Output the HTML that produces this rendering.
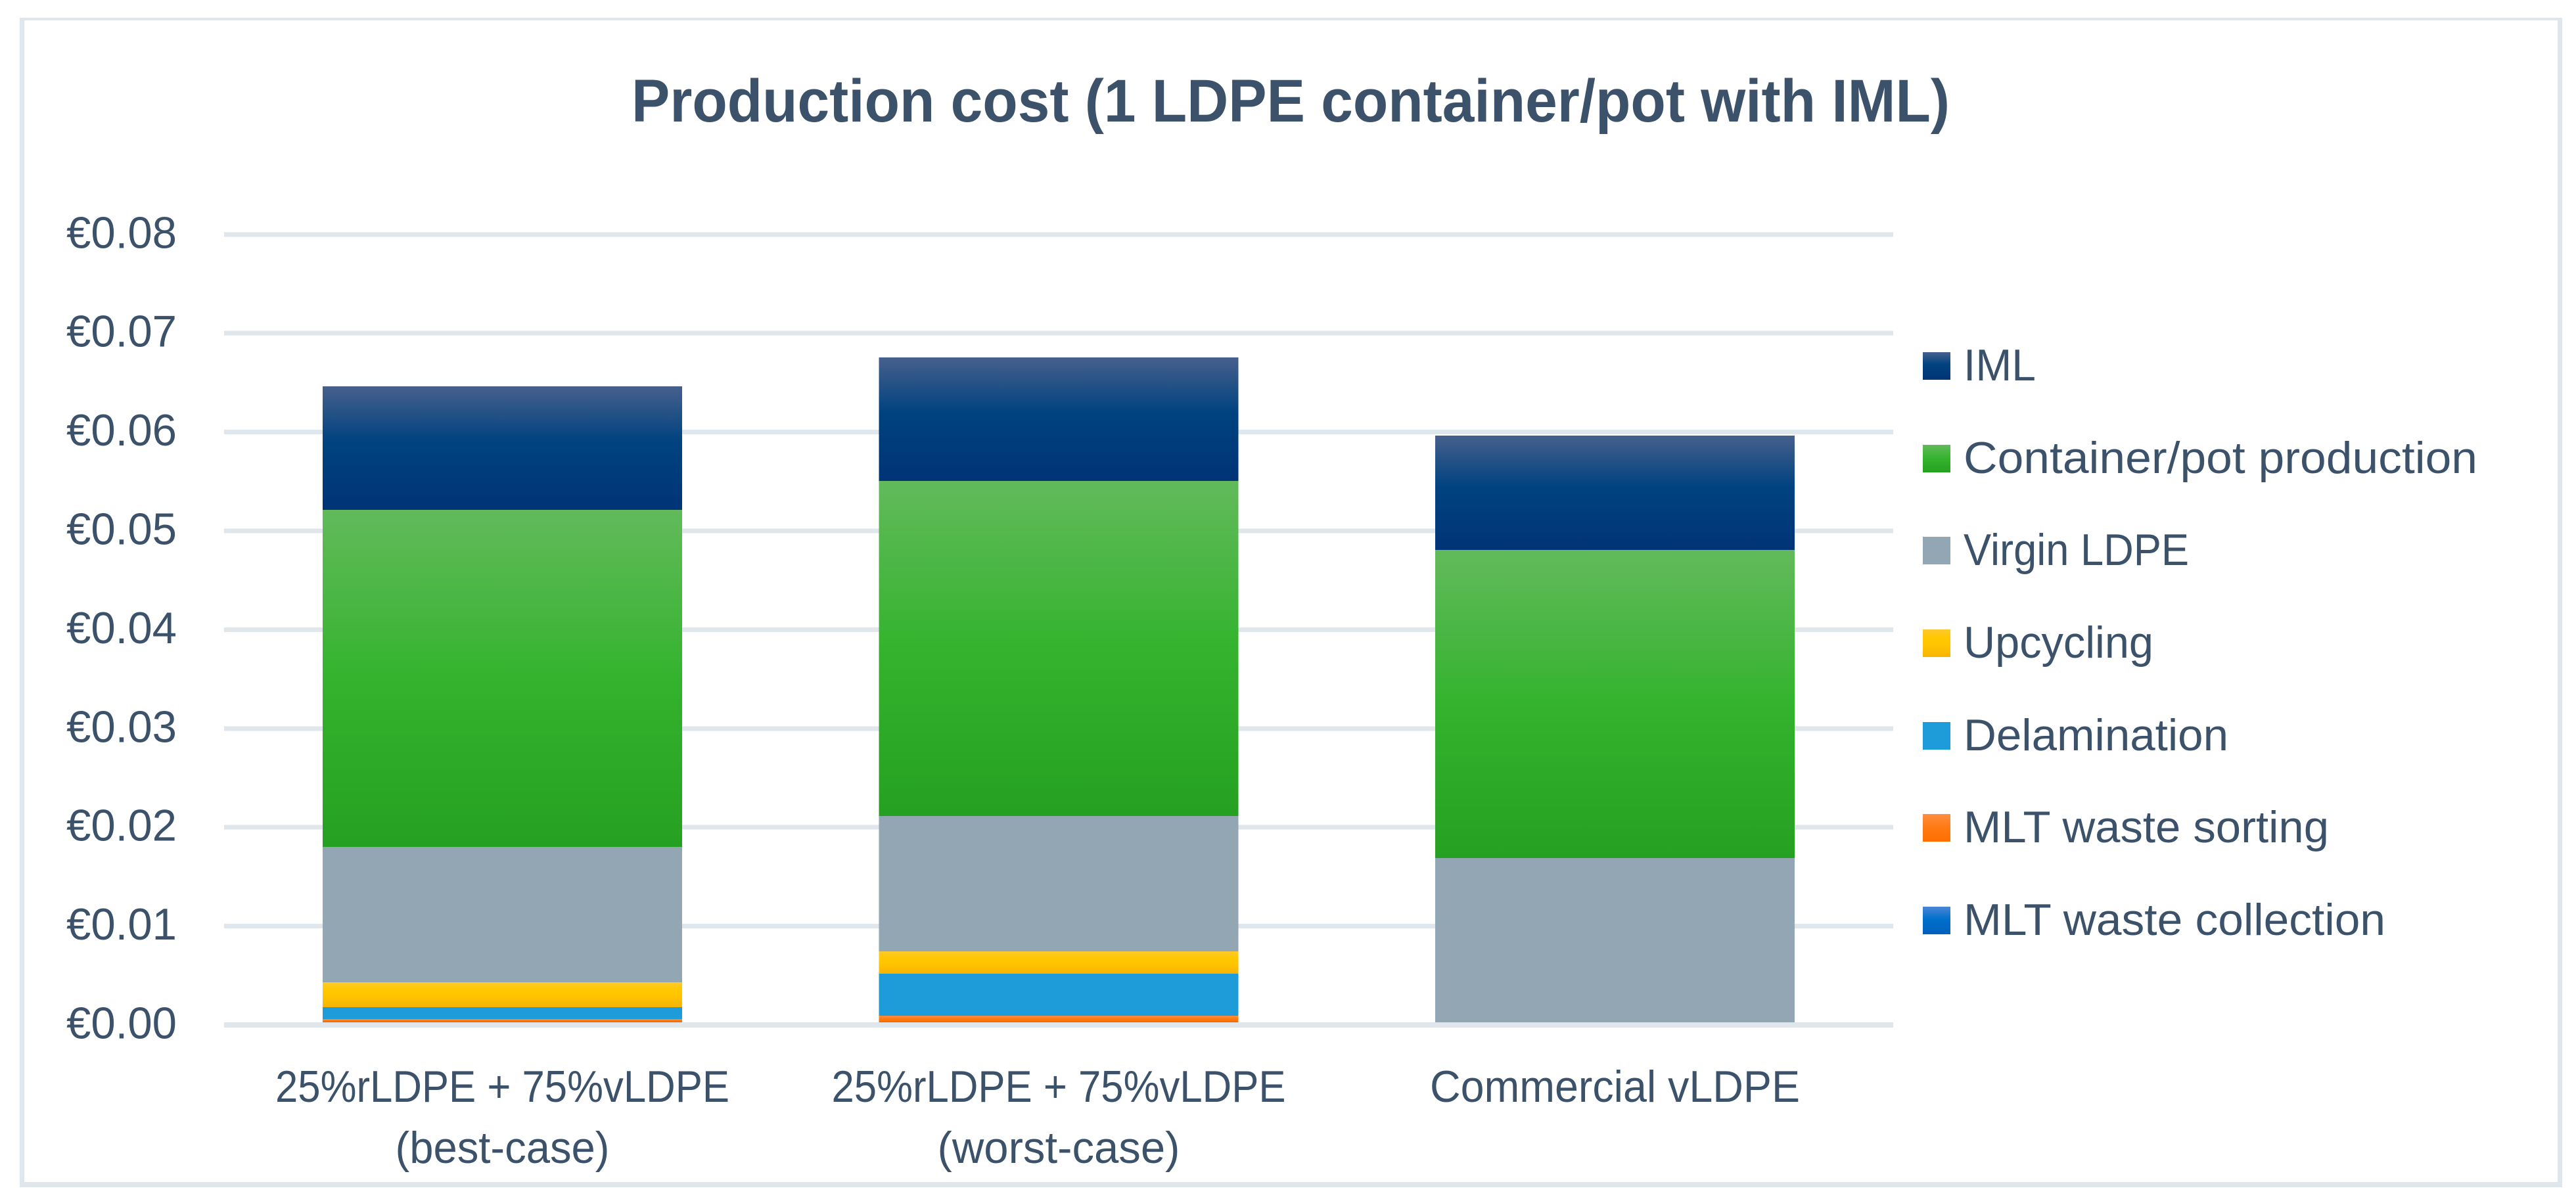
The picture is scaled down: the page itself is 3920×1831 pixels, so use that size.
<!DOCTYPE html>
<html lang="en">
<head>
<meta charset="utf-8">
<title>Production cost (1 LDPE container/pot with IML)</title>
<style>
html,body{margin:0;padding:0;background:#fff;width:3920px;height:1831px;overflow:hidden}
svg{display:block}
text{font-family:"Liberation Sans",sans-serif;fill:#3c526b}
</style>
</head>
<body>
<svg id="chart" xmlns="http://www.w3.org/2000/svg" width="3920" height="1831" viewBox="0 0 3920 1831">
  <defs>
    <linearGradient id="g-iml" x1="0" y1="0" x2="0" y2="1"><stop offset="0" stop-color="#46608c"/><stop offset=".45" stop-color="#004280"/><stop offset="1" stop-color="#003477"/></linearGradient>
    <linearGradient id="g-container" x1="0" y1="0" x2="0" y2="1"><stop offset="0" stop-color="#62ba5b"/><stop offset=".5" stop-color="#34b32e"/><stop offset="1" stop-color="#26a021"/></linearGradient>
    <linearGradient id="g-upcycling" x1="0" y1="0" x2="0" y2="1"><stop offset="0" stop-color="#ffc92e"/><stop offset=".3" stop-color="#ffc800"/><stop offset=".55" stop-color="#ffc500"/><stop offset="1" stop-color="#f8b400"/></linearGradient>
    <linearGradient id="g-sorting" x1="0" y1="0" x2="0" y2="1"><stop offset="0" stop-color="#ff8d40"/><stop offset=".5" stop-color="#ff7a12"/><stop offset="1" stop-color="#ff6e00"/></linearGradient>
    <linearGradient id="g-collection" x1="0" y1="0" x2="0" y2="1"><stop offset="0" stop-color="#4a86d4"/><stop offset=".45" stop-color="#0070cc"/><stop offset="1" stop-color="#0060bb"/></linearGradient>
  </defs>
  <rect x="0" y="0" width="3920" height="1831" fill="#fff"/>
  <g fill="#dfe6ec" shape-rendering="crispEdges">
    <rect x="30" y="27" width="3869" height="4"/>
    <rect x="30" y="27" width="7" height="1780"/>
    <rect x="3892" y="27" width="7" height="1780"/>
    <rect x="30" y="1799" width="3869" height="8"/>
  </g>
  <text x="961" y="185" font-size="92" font-weight="700" textLength="2006" lengthAdjust="spacingAndGlyphs">Production cost (1 LDPE container/pot with IML)</text>
  <g id="grid"></g>
  <g id="bars"></g>
  <g id="axis"></g>
  <g id="ylabels"></g>
  <g id="xlabels"></g>
  <g id="legend"></g>
</svg>
<script>
// ---- chart data ----
const categories = [
  ["25%rLDPE + 75%vLDPE", "(best-case)"],
  ["25%rLDPE + 75%vLDPE", "(worst-case)"],
  ["Commercial vLDPE"]
];
const seriesNames = ["MLT waste collection", "MLT waste sorting", "Delamination", "Upcycling", "Virgin LDPE", "Container/pot production", "IML"];
const mltCollection = [0.0003, 0.0003, 0];
const mltSorting = [0.0003, 0.00063, 0];
const delamination = [0.0012, 0.00426, 0];
const upcycling = [0.00252, 0.00226, 0];
const virginLdpe = [0.0137, 0.01369, 0.01689];
const containerProduction = [0.03411, 0.03391, 0.03118];
const iml = [0.0125, 0.0125, 0.01157];
const yTickValues = [0, 0.01, 0.02, 0.03, 0.04, 0.05, 0.06, 0.07, 0.08];
const yTickLabels = ["€0.00", "€0.01", "€0.02", "€0.03", "€0.04", "€0.05", "€0.06", "€0.07", "€0.08"];

// ---- layout & style ----
const seriesValues = [mltCollection, mltSorting, delamination, upcycling, virginLdpe, containerProduction, iml];
const seriesFills = ["url(#g-collection)", "url(#g-sorting)", "#1e9cd9", "url(#g-upcycling)", "#93a6b3", "url(#g-container)", "url(#g-iml)"];
const seriesKeys = ["mlt-waste-collection", "mlt-waste-sorting", "delamination", "upcycling", "virgin-ldpe", "container-pot-production", "iml"];
const plot = { left: 341, right: 2881, zero: 1560, perUnit: 15040, band: 846.5, barWidth: 547 };
const fitWidths = {
  "25%rLDPE + 75%vLDPE": 691, "(best-case)": 326, "(worst-case)": 369, "Commercial vLDPE": 563,
  "IML": 110, "Container/pot production": 782, "Virgin LDPE": 343, "Upcycling": 289,
  "Delamination": 403, "MLT waste sorting": 556, "MLT waste collection": 642
};
const NS = "http://www.w3.org/2000/svg";
const gridColor = "#dfe6ec";

function yScale(v) { return plot.zero - v * plot.perUnit; }
function xBand(i) { return plot.left + 150 + i * plot.band; }
function make(tag, parent, attrs) {
  const el = document.createElementNS(NS, tag);
  for (const k in attrs) el.setAttribute(k, attrs[k]);
  parent.appendChild(el);
  return el;
}

// gridlines
const gridG = document.getElementById("grid");
yTickValues.forEach(function (v) {
  if (v === 0) return;
  const line = make("rect", gridG, { x: plot.left, y: yScale(v) - 3.5, width: plot.right - plot.left, height: 7, fill: gridColor, "shape-rendering": "crispEdges" });
  
  
});

// stacked bars
const barsG = document.getElementById("bars");
categories.forEach(function (cat, i) {
  let cum = 0;
  seriesValues.forEach(function (vals, s) {
    const v = vals[i];
    const top = yScale(cum + v);
    const bottom = yScale(cum);
    cum += v;
    const seg = make("rect", barsG, { x: xBand(i), y: top, width: plot.barWidth, height: Math.max(0, bottom - top), fill: seriesFills[s], "shape-rendering": "crispEdges" });
    
    
  });
});

// x axis line drawn above the bars
const axisLine = make("rect", document.getElementById("axis"), { x: plot.left, y: yScale(0) - 4, width: plot.right - plot.left, height: 8, fill: gridColor, "shape-rendering": "crispEdges" });



// y tick labels
const yG = document.getElementById("ylabels");
yTickValues.forEach(function (v, i) {
  const t = make("text", yG, { x: 101, y: yScale(v) + 20.5, "font-size": 68, textLength: 168, lengthAdjust: "spacingAndGlyphs" });
  t.textContent = yTickLabels[i];
  
  
});

// x category labels
const xG = document.getElementById("xlabels");
categories.forEach(function (lines, i) {
  const cx = xBand(i) + plot.barWidth / 2;
  lines.forEach(function (line, j) {
    const w = fitWidths[line];
    const t = make("text", xG, { x: cx - w / 2, y: 1677 + j * 93, "font-size": 68, textLength: w, lengthAdjust: "spacingAndGlyphs" });
    t.textContent = line;
    
    
  });
});

// legend (top-to-bottom is reverse stacking order)
const legendG = document.getElementById("legend");
seriesNames.slice().reverse().forEach(function (name, i) {
  const s = seriesNames.length - 1 - i;
  const top = Math.round(536 + i * 140.67);
  const swatch = make("rect", legendG, { x: 2926, y: top, width: 42, height: 42, fill: seriesFills[s], "shape-rendering": "crispEdges" });
  
  
  const t = make("text", legendG, { x: 2988, y: top + 43, "font-size": 68, textLength: fitWidths[name], lengthAdjust: "spacingAndGlyphs" });
  t.textContent = name;
  
  
});
</script>
</body>
</html>
